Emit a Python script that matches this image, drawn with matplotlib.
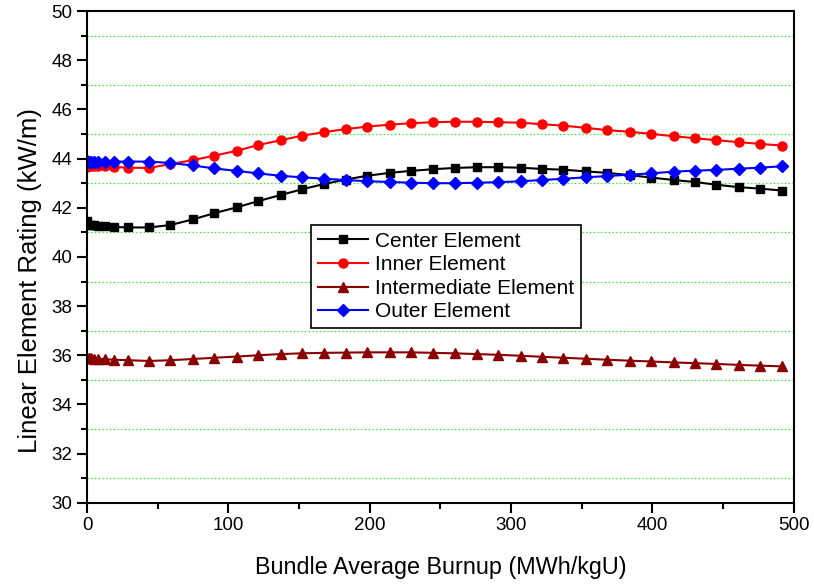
import matplotlib.pyplot as plt
from matplotlib.ticker import MultipleLocator

plt.rcParams['font.family'] = ['Liberation Sans', 'DejaVu Sans']

burnup = [0, 1, 3, 5, 8, 13, 19, 29, 44, 59, 75, 90, 106, 121, 137, 152, 168, 183,
          198, 214, 229, 245, 260, 276, 291, 307, 322, 337, 353, 368, 384, 399, 415,
          430, 445, 461, 476, 492]

center = [41.45, 41.3, 41.28, 41.28, 41.27, 41.25, 41.22, 41.2, 41.2, 41.3, 41.53,
          41.78, 42.02, 42.27, 42.52, 42.75, 42.97, 43.15, 43.3, 43.42, 43.5, 43.57,
          43.62, 43.65, 43.65, 43.63, 43.58, 43.55, 43.48, 43.42, 43.33, 43.23, 43.13,
          43.05, 42.94, 42.84, 42.78, 42.70]

inner = [43.65, 43.68, 43.7, 43.7, 43.7, 43.68, 43.66, 43.63, 43.62, 43.78, 43.94,
         44.12, 44.32, 44.55, 44.75, 44.93, 45.08, 45.2, 45.3, 45.38, 45.44, 45.48,
         45.5, 45.5, 45.48, 45.46, 45.4, 45.34, 45.25, 45.16, 45.09, 45.01, 44.91,
         44.83, 44.75, 44.67, 44.6, 44.53]

intermediate = [35.9, 35.88, 35.88, 35.87, 35.85, 35.84, 35.82, 35.8, 35.77, 35.8,
                35.85, 35.9, 35.95, 36.0, 36.05, 36.08, 36.1, 36.11, 36.12, 36.12,
                36.12, 36.1, 36.08, 36.05, 36.02, 35.98, 35.94, 35.9, 35.86, 35.82,
                35.78, 35.75, 35.71, 35.68, 35.65, 35.61, 35.58, 35.55]

outer = [43.9, 43.88, 43.88, 43.87, 43.87, 43.88, 43.88, 43.88, 43.88, 43.82, 43.72,
         43.6, 43.5, 43.4, 43.3, 43.24, 43.18, 43.13, 43.08, 43.05, 43.02, 43.0,
         43.0, 43.02, 43.04, 43.08, 43.13, 43.18, 43.24, 43.29, 43.35, 43.4, 43.47,
         43.51, 43.54, 43.59, 43.63, 43.69]

fig = plt.figure(figsize=(8.14, 5.84), dpi=100)
ax = fig.add_axes([0.107, 0.139, 0.868, 0.842])

ax.plot(burnup, center, '-s', color='black', lw=1.5, ms=6, label='Center Element')
ax.plot(burnup, inner, '-o', color='#ff0000', lw=1.5, ms=6.5, label='Inner Element')
ax.plot(burnup, intermediate, '-^', color='#8b0000', lw=1.5, ms=7, label='Intermediate Element')
ax.plot(burnup, outer, '-D', color='#0000ff', lw=1.5, ms=6, label='Outer Element')

ax.set_xlim(0, 500)
ax.set_ylim(30, 50)
ax.xaxis.set_major_locator(MultipleLocator(100))
ax.xaxis.set_minor_locator(MultipleLocator(50))
ax.yaxis.set_major_locator(MultipleLocator(2))
ax.yaxis.set_minor_locator(MultipleLocator(1))
ax.grid(which='minor', axis='y', color='#00ff00', linestyle=(0, (1, 2)), lw=0.9)
ax.tick_params(which='major', direction='out', length=7, width=1.5, labelsize=13.5)
ax.tick_params(which='minor', direction='out', length=4, width=1.5)
for s in ax.spines.values():
    s.set_linewidth(1.5)

ax.set_xlabel('Bundle Average Burnup (MWh/kgU)', fontsize=16.8)
ax.set_ylabel('Linear Element Rating (kW/m)', fontsize=18.5)
ax.xaxis.set_label_coords(0.5, -0.108)
ax.yaxis.set_label_coords(-0.064, 0.453)

leg = ax.legend(loc='upper left', bbox_to_anchor=(0.317, 0.565), fontsize=15,
                fancybox=False, edgecolor='black', framealpha=1,
                handlelength=2.4, handletextpad=0.35, borderpad=0.32,
                labelspacing=0.22, borderaxespad=0)
leg.get_frame().set_linewidth(1.2)

fig.savefig('out.png')
